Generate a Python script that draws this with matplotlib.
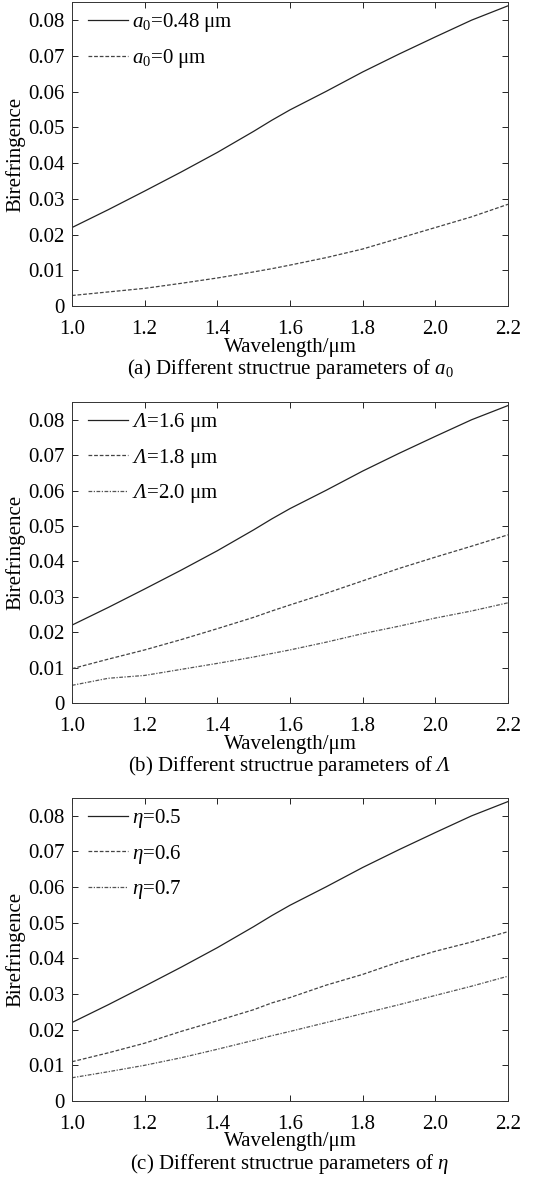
import matplotlib
matplotlib.use('Agg')
import matplotlib.pyplot as plt

plt.rcParams['font.family'] = ['Liberation Serif', 'DejaVu Serif']
plt.rcParams['mathtext.fontset'] = 'custom'
plt.rcParams['mathtext.rm'] = 'Liberation Serif'
plt.rcParams['mathtext.it'] = 'Liberation Serif:italic'
plt.rcParams['mathtext.cal'] = 'Liberation Serif:italic'
plt.rcParams['font.size'] = 15

wavelength = [1.0, 1.1, 1.2, 1.3, 1.4, 1.5, 1.55, 1.6, 1.7, 1.8, 1.9, 2.0, 2.1, 2.2]

# (a) core offset a0
a_048 = [0.0220, 0.0270, 0.0322, 0.0375, 0.0430, 0.0489, 0.0520, 0.0549, 0.0601, 0.0655, 0.0705, 0.0753, 0.0800, 0.0840]
a_000 = [0.0030, 0.0040, 0.0050, 0.0064, 0.0079, 0.0096, 0.0105, 0.0115, 0.0136, 0.0160, 0.0190, 0.0220, 0.0250, 0.0285]

# (b) pitch Lambda
L_16 = [0.0220, 0.0270, 0.0322, 0.0375, 0.0430, 0.0489, 0.0520, 0.0549, 0.0601, 0.0655, 0.0705, 0.0753, 0.0800, 0.0840]
L_18 = [0.0097, 0.0124, 0.0150, 0.0179, 0.0210, 0.0242, 0.0260, 0.0277, 0.0310, 0.0345, 0.0380, 0.0412, 0.0443, 0.0475]
L_20 = [0.0050, 0.0070, 0.0078, 0.0095, 0.0112, 0.0130, 0.0140, 0.0150, 0.0172, 0.0196, 0.0217, 0.0240, 0.0260, 0.0283]

# (c) eta
e_05 = [0.0220, 0.0270, 0.0322, 0.0375, 0.0430, 0.0489, 0.0520, 0.0549, 0.0601, 0.0655, 0.0705, 0.0753, 0.0800, 0.0840]
e_06 = [0.0110, 0.0135, 0.0162, 0.0195, 0.0225, 0.0256, 0.0275, 0.0290, 0.0325, 0.0355, 0.0390, 0.0420, 0.0446, 0.0475]
e_07 = [0.0065, 0.0082, 0.0100, 0.0121, 0.0145, 0.0170, 0.0183, 0.0195, 0.0220, 0.0245, 0.0270, 0.0296, 0.0322, 0.0350]

xticks = [1.0, 1.2, 1.4, 1.6, 1.8, 2.0, 2.2]
xticklabels = ['1.0', '1.2', '1.4', '1.6', '1.8', '2.0', '2.2']
yticks = [0, 0.01, 0.02, 0.03, 0.04, 0.05, 0.06, 0.07, 0.08]
yticklabels = ['0', '0.01', '0.02', '0.03', '0.04', '0.05', '0.06', '0.07', '0.08']

panels = [
    ([(a_048, '$a_0$=0.48 μm'), (a_000, '$a_0$=0 μm')],
     '(a) Different structrue parameters of $a_0$'),
    ([(L_16, r'$\mathcal{Λ}$=1.6 μm'), (L_18, r'$\mathcal{Λ}$=1.8 μm'),
      (L_20, r'$\mathcal{Λ}$=2.0 μm')],
     r'(b) Different structrue parameters of $\mathcal{Λ}$'),
    ([(e_05, r'$\eta$=0.5'), (e_06, r'$\eta$=0.6'), (e_07, r'$\eta$=0.7')],
     r'(c) Different structrue parameters of $\eta$'),
]
styles = [('-', '#222222'), ((0, (3, 1.5)), '#444444'), ((0, (3, 1.2, 1, 1.2)), '#555555')]
boxes = [(0.132, 0.742, 0.80, 0.2561), (0.132, 0.4077, 0.80, 0.2536), (0.132, 0.0725, 0.80, 0.2552)]

fig = plt.figure(figsize=(5.45, 11.87), dpi=100)
for (series, caption), box in zip(panels, boxes):
    ax = fig.add_axes(box)
    for (vals, label), (ls, col) in zip(series, styles):
        ax.plot(wavelength, vals, linestyle=ls, color=col, linewidth=0.9, label=label)
    ax.set_xlim(1.0, 2.2)
    ax.set_ylim(0, 0.085)
    ax.set_xticks(xticks)
    ax.set_xticklabels(xticklabels)
    ax.set_yticks(yticks)
    ax.set_yticklabels(yticklabels)
    ax.tick_params(direction='in', top=True, right=True, length=4, width=0.6, pad=5)
    ax.tick_params(axis='x', pad=10)
    for sp in ax.spines.values():
        sp.set_linewidth(0.7)
        sp.set_color('#333333')
    ax.set_xlabel('Wavelength/μm', labelpad=-1)
    ax.set_ylabel('Birefringence', labelpad=2)
    ax.legend(loc='upper left', bbox_to_anchor=(0.025, 0.987), frameon=False,
              handlelength=1.9, handletextpad=0.2, labelspacing=0.6,
              borderaxespad=0.0, borderpad=0.25)
    ax.annotate(caption, xy=(0.5, 0), xycoords='axes fraction',
                xytext=(0, -63), textcoords='offset pixels', ha='center', va='center')

fig.savefig('out.png', dpi=100)
